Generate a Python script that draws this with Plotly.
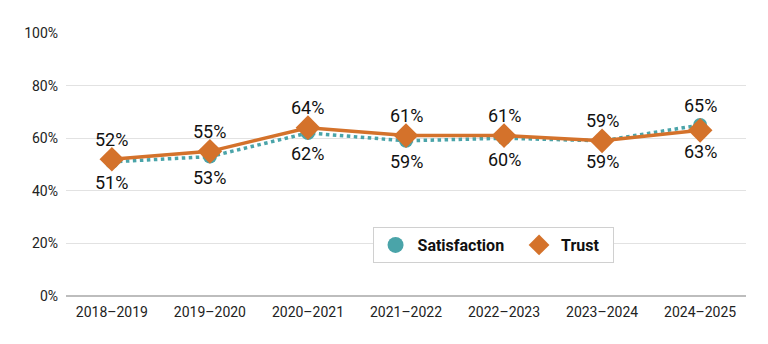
import plotly.graph_objects as go

years = ["2018–2019", "2019–2020", "2020–2021", "2021–2022", "2022–2023", "2023–2024", "2024–2025"]
satisfaction = [51, 53, 62, 59, 60, 59, 65]
trust = [52, 55, 64, 61, 61, 59, 63]
y_ticks = [0, 20, 40, 60, 80, 100]
y_tick_labels = [f"{v}%" for v in y_ticks]

# +1 = label above point, -1 = label below point
sat_side = [-1, -1, -1, -1, -1, -1, 1]
trust_side = [1, 1, 1, 1, 1, 1, -1]

TEAL = "#4AA4A9"
ORANGE = "#D4722B"
FONT = "Roboto"

fig = go.Figure()
fig.add_trace(go.Scatter(
    x=years, y=satisfaction, name="Satisfaction", mode="lines+markers",
    line=dict(color=TEAL, width=3.5, dash="dot"),
    marker=dict(symbol="circle", size=14, color=TEAL),
    cliponaxis=False, showlegend=False,
))
fig.add_trace(go.Scatter(
    x=years, y=trust, name="Trust", mode="lines+markers",
    line=dict(color=ORANGE, width=3.5),
    marker=dict(symbol="diamond", size=19, color=ORANGE),
    cliponaxis=False, showlegend=False,
))
# legend entries (markers only)
fig.add_trace(go.Scatter(x=[None], y=[None], name="Satisfaction  ", mode="markers",
                         marker=dict(symbol="circle", size=17, color=TEAL)))
fig.add_trace(go.Scatter(x=[None], y=[None], name="Trust  ", mode="markers",
                         marker=dict(symbol="diamond", size=20, color=ORANGE)))

for series, sides in ((satisfaction, sat_side), (trust, trust_side)):
    for x, v, s in zip(years, series, sides):
        fig.add_annotation(x=x, y=v, text=f"{v}%", showarrow=False,
                           yshift=20 if s > 0 else -21,
                           font=dict(family=FONT, size=18, color="#111"))

fig.update_layout(
    width=768, height=344,
    margin=dict(l=66, r=22, t=33, b=48),
    paper_bgcolor="white", plot_bgcolor="white",
    font=dict(family=FONT, size=14, color="#222"),
    showlegend=True,
    legend=dict(
        orientation="h", x=0.628, y=0.194, xanchor="center", yanchor="middle",
        bordercolor="#d0d0d0", borderwidth=1, bgcolor="white",
        font=dict(family=FONT, size=16, color="#111", weight="bold"),
        itemsizing="trace", itemwidth=34,
    ),
    xaxis=dict(showgrid=False, ticks="", tickfont=dict(size=14, color="#222"),
               showline=False, ticklabelstandoff=6),
    yaxis=dict(
        range=[0, 100], tickmode="array", tickvals=y_ticks, ticktext=y_tick_labels,
        showgrid=True, gridcolor="#e2e2e2", gridwidth=1,
        zeroline=True, zerolinecolor="#bdbdbd", zerolinewidth=2,
        tickfont=dict(size=14, color="#222"), ticks="", ticklen=0,
        ticklabelstandoff=7,
    ),
)

fig.write_html("out.html")
